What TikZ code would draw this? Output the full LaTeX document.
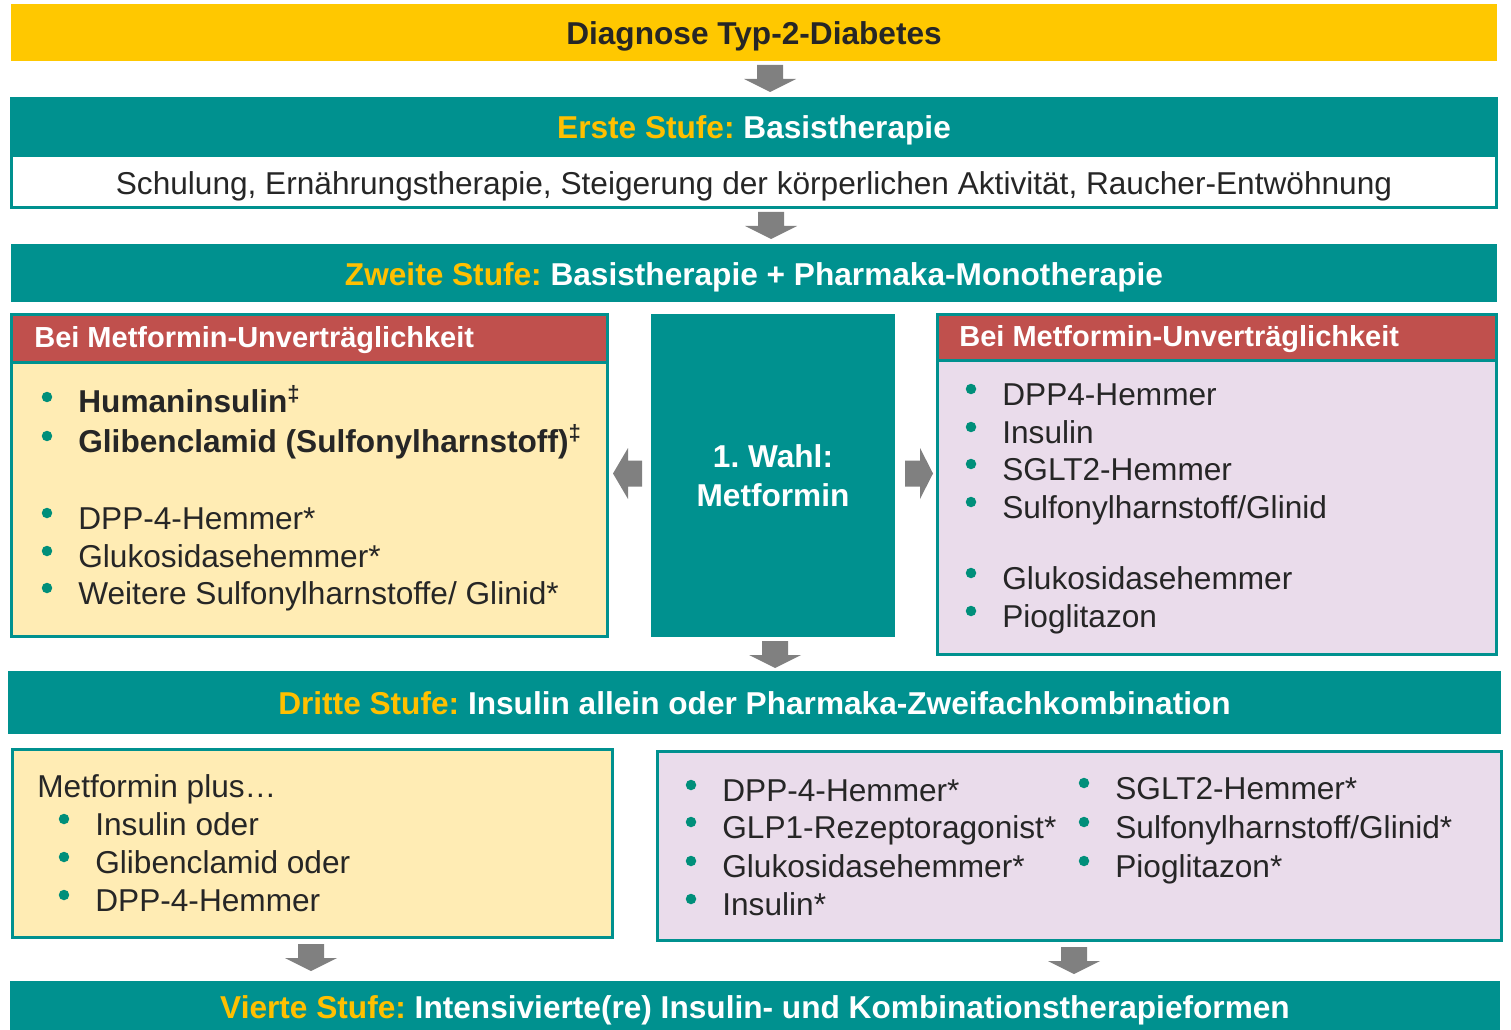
\documentclass[tikz,border=0pt]{standalone}
\usepackage{fontspec}
\setmainfont{Liberation Sans}
\usetikzlibrary{positioning,calc,fit}
\definecolor{stufenteal}{RGB}{0,145,143}
\definecolor{kopfrot}{RGB}{192,80,77}
\definecolor{hellgelb}{RGB}{255,236,180}
\definecolor{lavendel}{RGB}{234,220,235}
\definecolor{diaggelb}{RGB}{255,200,0}
\definecolor{stufengelb}{RGB}{255,192,0}
\definecolor{pfeilgrau}{RGB}{128,128,128}
\definecolor{textdunkel}{RGB}{38,38,38}
\definecolor{punktteal}{RGB}{0,143,122}
\newcommand*{\gross}{\fontsize{18}{22.2}\selectfont}
\newcommand*{\stufe}[1]{{\color{stufengelb}#1}}
% list entry: name, x, baseline y, text -- with its bullet
\newcommand*{\eintrag}[4]{%
  \node[eintrag] (#1) at (#2,#3) {#4};
  \node[punkt] (#1p) at ($(#1.base west)+(-31,-16)$) {};}
\frenchspacing

\begin{document}
\begin{tikzpicture}[x=0.02cm,y=-0.02cm,
  balken/.style={fill=stufenteal,inner sep=0pt},
  balkentext/.style={inner sep=0pt,text=white,yshift=-0.07cm,
    font=\bfseries\gross,text height=13pt,text depth=3pt},
  kasten/.style={draw=stufenteal,line width=0.06cm,inner sep=0pt},
  kopf/.style={kasten,fill=kopfrot},
  kopftext/.style={anchor=base west,inner sep=0pt,text=white,
    font=\bfseries\fontsize{16.5}{20}\selectfont},
  eintrag/.style={anchor=base west,inner sep=0pt,text=textdunkel,font=\gross},
  punkt/.style={circle,fill=punktteal,inner sep=0pt,minimum size=0.21cm},
  pfeilrunter/.pic={\fill[pfeilgrau] (-13,0) -- (13,0) -- (13,14) -- (26,14)
    -- (0,27) -- (-26,14) -- (-13,14) -- cycle;},
  pfeillinks/.pic={\fill[pfeilgrau] (0,0) -- (15,-25.5) -- (15,-13) -- (29,-13)
    -- (29,13) -- (15,13) -- (15,25.5) -- cycle;},
  pfeilrechts/.pic={\fill[pfeilgrau] (0,0) -- (-13,-25.5) -- (-13,-13) -- (-28,-13)
    -- (-28,13) -- (-13,13) -- (-13,25.5) -- cycle;}]
\useasboundingbox (0,0) rectangle (1511,1030);

% Diagnose and first step
\node[balken,fill=diaggelb,fit={(11,4) (1497,61)},
  label={[balkentext,text=textdunkel]center:Diagnose Typ-2-Diabetes}] (diag) {};
\pic at (770,65) {pfeilrunter};
\node[kasten,fill=white,fit={(11.5,156) (1496.5,207.5)},
  label={[balkentext,text=textdunkel,font=\gross]center:Schulung, Ernährungstherapie,
    Steigerung der körperlichen Aktivität, Raucher-Entwöhnung}] (basis) {};
\node[balken,fit={(10,97) (1498,155)},
  label={[balkentext]center:\stufe{Erste Stufe:} Basistherapie}] (erste) {};
\pic at (771,212) {pfeilrunter};

% Second step
\node[balken,fit={(11,244) (1497,302)},
  label={[balkentext]center:\stufe{Zweite Stufe:} Basistherapie + Pharmaka-Monotherapie}]
  (zweite) {};

\node[kasten,fill=hellgelb,fit={(11.5,314.5) (607.5,636.5)}] (lbox) {};
\node[kopf,fit={(11.5,314.5) (607.5,362.5)}] (lhead) {};
\node[kopftext] (lheadtext) at (34,348) {Bei Metformin-Unverträglichkeit};
\eintrag{l1}{78}{413}{\bfseries Humaninsulin\textsuperscript{‡}}
\eintrag{l2}{78}{452}{\bfseries Glibenclamid (Sulfonylharnstoff)\textsuperscript{‡}}
\eintrag{l3}{78}{529}{DPP-4-Hemmer*}
\eintrag{l4}{78}{567}{Glukosidasehemmer*}
\eintrag{l5}{78}{604}{Weitere Sulfonylharnstoffe/ Glinid*}

\node[balken,fit={(651,314) (895,637)},
  label={[balkentext,yshift=0.07cm,align=center,text height=,text depth=]center:{1. Wahl:\\Metformin}}]
  (wahl) {};
\pic at (613,473.5) {pfeillinks};
\pic at (933,473.5) {pfeilrechts};

\node[kasten,fill=lavendel,fit={(937,314.5) (1496,654.5)}] (rbox) {};
\node[kopf,fit={(937,314.5) (1496,360.5)}] (rhead) {};
\node[kopftext] (rheadtext) at (959,347) {Bei Metformin-Unverträglichkeit};
\eintrag{r1}{1002}{405}{DPP4-Hemmer}
\eintrag{r2}{1002}{443}{Insulin}
\eintrag{r3}{1002}{480}{SGLT2-Hemmer}
\eintrag{r4}{1002}{518}{Sulfonylharnstoff/Glinid}
\eintrag{r5}{1002}{589}{Glukosidasehemmer}
\eintrag{r6}{1002}{627}{Pioglitazon}
\pic at (775,641) {pfeilrunter};

% Third step
\node[balken,fit={(8,671) (1501,734)},
  label={[balkentext]center:\stufe{Dritte Stufe:} Insulin allein oder
    Pharmaka-Zweifachkombination}] (dritte) {};

\node[kasten,fill=hellgelb,fit={(12.5,749.5) (612.5,937.5)}] (ubox) {};
\node[eintrag] (uhead) at (37,797) {Metformin plus…};
\eintrag{u1}{95}{835}{Insulin oder}
\eintrag{u2}{95}{873}{Glibenclamid oder}
\eintrag{u3}{95}{911}{DPP-4-Hemmer}

\node[kasten,fill=lavendel,fit={(657,751.5) (1501.5,940.5)}] (vbox) {};
\eintrag{v1}{722}{801}{DPP-4-Hemmer*}
\eintrag{v2}{722}{838}{GLP1-Rezeptoragonist*}
\eintrag{v3}{722}{877}{Glukosidasehemmer*}
\eintrag{v4}{722}{915}{Insulin*}
\eintrag{w1}{1115}{799}{SGLT2-Hemmer*}
\eintrag{w2}{1115}{838}{Sulfonylharnstoff/Glinid*}
\eintrag{w3}{1115}{877}{Pioglitazon*}

\pic at (311,944) {pfeilrunter};
\pic at (1074,947) {pfeilrunter};

% Fourth step
\node[balken,fit={(10,981) (1500,1030)},
  label={[balkentext,yshift=-0.02cm]center:\stufe{Vierte Stufe:} Intensivierte(re)
    Insulin- und Kombinationstherapieformen}] (vierte) {};
\end{tikzpicture}
\end{document}
